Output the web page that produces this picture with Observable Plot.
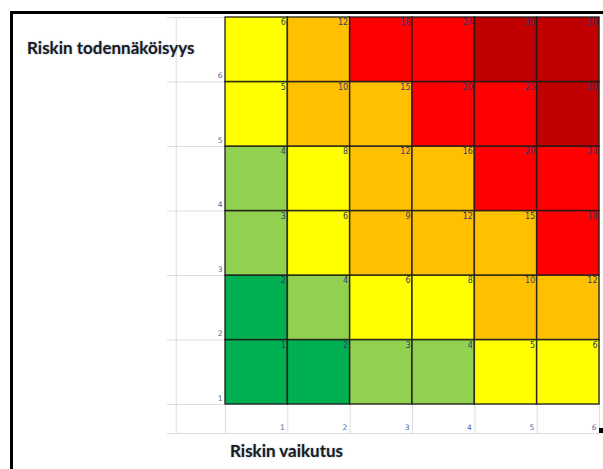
<!DOCTYPE html>
<html>
<head>
<meta charset="utf-8">
<script src="https://cdn.jsdelivr.net/npm/d3@7"></script>
<script src="https://cdn.jsdelivr.net/npm/@observablehq/plot@0.6"></script>
<style>
  html, body { margin: 0; padding: 0; background: #fff; }
  #wrap { position: relative; width: 603px; height: 469px; overflow: hidden; background: #fff; }
  #chart { position: absolute; left: 0; top: 0; }
  .frame { position: absolute; left: 10px; top: 11px; width: 600px; height: 470px;
           border-top: 3px solid #000; border-left: 3px solid #000; box-sizing: border-box; }
  .title { position: absolute; font-family: Lato, "Open Sans", sans-serif; font-weight: bold;
           font-size: 17px; color: #1b1b1b; white-space: nowrap; line-height: 20px;
           text-shadow: 0 0 2px rgba(40,90,160,0.45); }
  .mark { position: absolute; left: 599px; top: 428px; width: 4px; height: 5px; background: #000; }
</style>
</head>
<body>
<div id="wrap">
  <div id="chart"></div>
  <div class="frame"></div>
  <div class="title" id="ytitle" style="left:27px; top:38px;"></div>
  <div class="title" id="xtitle" style="left:230px; top:441px;"></div>
  <div class="mark"></div>
</div>
<script>
// Axis categories
const impact = [1, 2, 3, 4, 5, 6];          // Riskin vaikutus (columns)
const likelihood = [1, 2, 3, 4, 5, 6];      // Riskin todennäköisyys (rows, bottom to top)
const xTickLabels = ["1", "2", "3", "4", "5", "6"];
const yTickLabels = ["1", "2", "3", "4", "5", "6"];
const xTitle = "Riskin vaikutus";
const yTitle = "Riskin todennäköisyys";

// Cell scores, one row per likelihood level (bottom row first)
const scores = [
  [1, 2, 3, 4, 5, 6],
  [2, 4, 6, 8, 10, 12],
  [3, 6, 9, 12, 15, 18],
  [4, 8, 12, 16, 20, 24],
  [5, 10, 15, 20, 25, 30],
  [6, 12, 18, 24, 30, 36]
];

// Risk level of each cell (index into levelNames), bottom row first
const levels = [
  [0, 0, 1, 1, 2, 2],
  [0, 1, 2, 2, 3, 3],
  [1, 2, 3, 3, 3, 4],
  [1, 2, 3, 3, 4, 4],
  [2, 3, 3, 4, 4, 5],
  [2, 3, 4, 4, 5, 5]
];
const levelNames = ["hyvin pieni", "pieni", "kohtalainen", "merkittävä", "suuri", "erittäin suuri"];
const levelColors = ["#00b050", "#92d050", "#ffff00", "#ffc000", "#ff0000", "#c00000"];

// Gridline values of the chart area
const xGrid = [-0.79, 0, 1, 2, 3, 4, 5, 6];
const yGrid = [-0.45, 0, 1, 2, 3, 4, 5, 6];
const gridExtentX = [-0.93, 6.0];
const gridExtentY = [-0.45, 6];

document.getElementById("xtitle").textContent = xTitle;
document.getElementById("ytitle").textContent = yTitle;

const cells = [];
likelihood.forEach((l, r) => {
  impact.forEach((im, c) => {
    cells.push({ impact: im, likelihood: l, score: scores[r][c], level: levelNames[levels[r][c]] });
  });
});

const xTicks = impact.map((v, i) => ({ v, label: xTickLabels[i] }));
const yTicks = likelihood.map((v, i) => ({ v: v - 1, label: yTickLabels[i] }));

const chart = Plot.plot({
  width: 603,
  height: 469,
  marginLeft: 225,
  marginRight: 4,
  marginTop: 17,
  marginBottom: 65,
  x: { domain: [0, 6], axis: null },
  y: { domain: [0, 6], axis: null },
  color: { type: "ordinal", domain: levelNames, range: levelColors },
  style: { background: "transparent", overflow: "visible" },
  marks: [
    Plot.ruleY(yGrid, { y: d => d, x1: gridExtentX[0], x2: gridExtentX[1], stroke: "#dedede", strokeWidth: 1 }),
    Plot.ruleX(xGrid, { x: d => d, y1: gridExtentY[0], y2: gridExtentY[1], stroke: "#dedede", strokeWidth: 1 }),
    Plot.rect(cells, {
      x1: d => d.impact - 1, x2: d => d.impact,
      y1: d => d.likelihood - 1, y2: d => d.likelihood,
      fill: "level", stroke: "#1a1a1a", strokeOpacity: 0.85, strokeWidth: 1.5
    }),
    Plot.text(cells, {
      x: "impact", y: "likelihood", text: d => String(d.score),
      textAnchor: "end", dx: -2, dy: 5, fontSize: 8, fill: "#34396a",
      fontFamily: "DejaVu Sans"
    }),
    Plot.text(yTicks, {
      x: 0, y: "v", text: "label", textAnchor: "end", dx: -3, dy: -6,
      fontSize: 7.5, fill: "#4a6aa0", fontFamily: "DejaVu Sans"
    }),
    Plot.text(xTicks, {
      x: "v", y: gridExtentY[0], text: "label", textAnchor: "end", dx: -3, dy: -6,
      fontSize: 7.5, fill: "#4a6aa0", fontFamily: "DejaVu Sans"
    })
  ]
});
document.getElementById("chart").appendChild(chart);
</script>
</body>
</html>
